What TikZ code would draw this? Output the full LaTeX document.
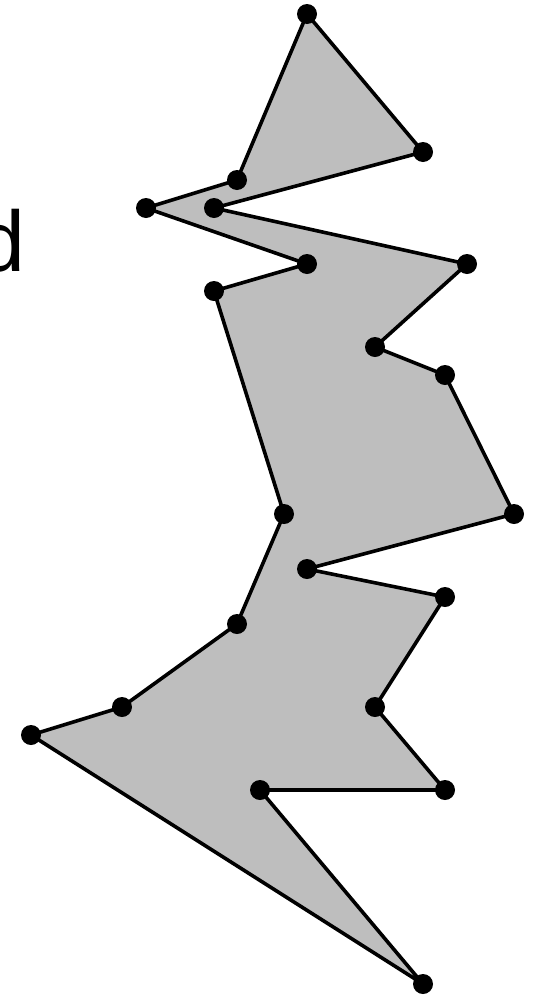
\documentclass[tikz,border=0pt]{standalone}
\usepackage{fontspec}
\setmainfont{Liberation Sans}
\definecolor{polyfill}{RGB}{190,190,190}
\begin{document}
\begin{tikzpicture}[x=1pt,y=-1pt,
  vertex/.style={circle,fill=black,inner sep=0pt,minimum size=20pt},
  poly/.style={fill=polyfill,draw=black,line width=3.6pt,line join=round}]
\useasboundingbox (0,0) rectangle (535,999);
\coordinate (p1) at (307,14);
\coordinate (p2) at (423,152);
\coordinate (p3) at (214,208);
\coordinate (p4) at (467,264);
\coordinate (p5) at (375,347);
\coordinate (p6) at (445,375);
\coordinate (p7) at (514,514);
\coordinate (p8) at (307,569);
\coordinate (p9) at (445,597);
\coordinate (p10) at (375,707);
\coordinate (p11) at (445,790);
\coordinate (p12) at (260,790);
\coordinate (p13) at (423,984);
\coordinate (p14) at (31,735);
\coordinate (p15) at (122,707);
\coordinate (p16) at (237,624);
\coordinate (p17) at (284,514);
\coordinate (p18) at (214,291);
\coordinate (p19) at (307,264);
\coordinate (p20) at (146,208);
\coordinate (p21) at (237,180);
\path[poly] (p1) -- (p2) -- (p3) -- (p4) -- (p5) -- (p6) -- (p7) -- (p8) -- (p9) -- (p10) -- (p11) -- (p12) -- (p13) -- (p14) -- (p15) -- (p16) -- (p17) -- (p18) -- (p19) -- (p20) -- (p21) -- cycle;
\foreach \i in {1,...,21} \node[vertex] (v\i) at (p\i) {};
\node[anchor=base east,inner sep=0pt,font=\fontsize{86}{90}\selectfont] (lbl) at (26,271) {d};
\end{tikzpicture}
\end{document}
